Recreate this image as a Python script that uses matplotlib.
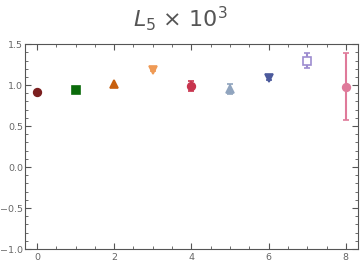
import matplotlib.pyplot as plt
from matplotlib.ticker import MultipleLocator

# Data
xs = [0, 1, 2, 3, 4, 5, 6, 7, 8]
values = [0.915, 0.94, 1.01, 1.19, 0.99, 0.95, 1.09, 1.30, 0.98]
errors = [0.0, 0.0, 0.0, 0.02, 0.06, 0.06, 0.03, 0.09, 0.41]
markers = ['o', 's', '^', 'v', 'o', '^', 'v', 's', 'o']
colors = ['#7b1f1f', '#0a6b0a', '#c8600f', '#ef9a55', '#c8344e',
          '#90a4be', '#4c5a9c', '#9d8ccf', '#df7a9a']

fig = plt.figure(figsize=(3.6, 2.69), dpi=100)
ax = fig.add_axes([0.0694, 0.0743, 0.9246, 0.7617])

for x, v, e, m, c in zip(xs, values, errors, markers, colors):
    face = 'white' if x == 7 else c
    ax.errorbar(x, v, yerr=e if e > 0 else None, fmt=m, color=c, ms=5.5,
                mfc=face, mec=c, mew=1.2, elinewidth=1.5, capsize=2.5, capthick=1.2)

ax.set_xlim(-0.31, 8.31)
ax.set_ylim(-1.0, 1.5)
ax.xaxis.set_major_locator(MultipleLocator(2))
ax.xaxis.set_minor_locator(MultipleLocator(0.5))
ax.yaxis.set_major_locator(MultipleLocator(0.5))
ax.yaxis.set_minor_locator(MultipleLocator(0.1))
ax.set_yticks([-1.0, -0.5, 0.0, 0.5, 1.0, 1.5])
ax.set_yticklabels(['\u22121.0', '\u22120.5', '0.0', '0.5', '1.0', '1.5'])
ax.tick_params(which='both', direction='in', top=True, right=True,
               color='#555555', labelsize=6.8, labelcolor='#666666')
ax.tick_params(axis='y', pad=1.5)
ax.tick_params(axis='x', pad=3)
ax.tick_params(which='major', length=4, width=0.8)
ax.tick_params(which='minor', length=2.5, width=0.6)
for s in ax.spines.values():
    s.set_color('#555555')
    s.set_linewidth(0.8)

fig.text(0.5, 0.93, r'$\mathit{L}_5$ $\times$ $10^3$', ha='center', va='center',
         fontsize=16, color='#555555', math_fontfamily='dejavusans')

fig.savefig('out.png', dpi=100)
